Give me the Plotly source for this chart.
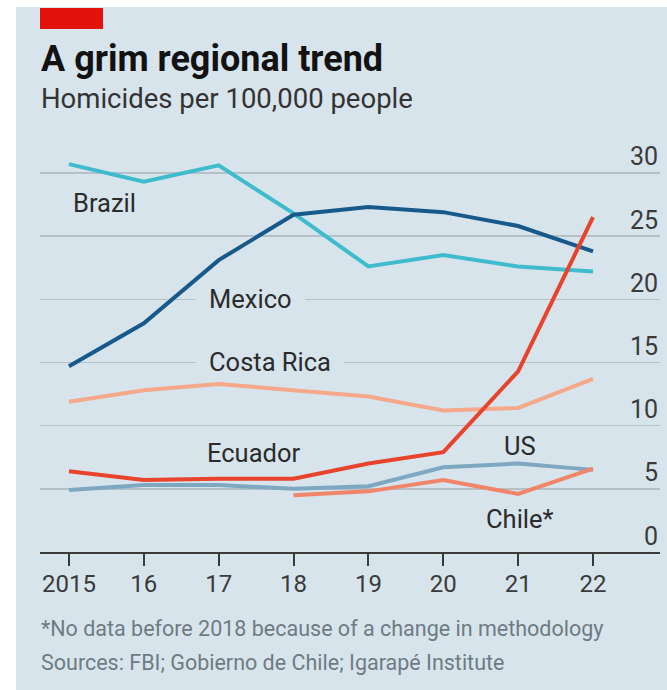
import plotly.graph_objects as go

years = [2015, 2016, 2017, 2018, 2019, 2020, 2021, 2022]
year_labels = ["2015", "16", "17", "18", "19", "20", "21", "22"]

brazil = [30.7, 29.3, 30.6, 26.8, 22.6, 23.5, 22.6, 22.2]
mexico = [14.7, 18.1, 23.1, 26.7, 27.3, 26.9, 25.8, 23.8]
costa_rica = [11.9, 12.8, 13.3, 12.8, 12.3, 11.2, 11.4, 13.7]
ecuador = [6.4, 5.7, 5.8, 5.8, 7.0, 7.9, 14.3, 26.5]
us = [4.9, 5.3, 5.3, 5.0, 5.2, 6.7, 7.0, 6.5]
chile_years = [2018, 2019, 2020, 2021, 2022]
chile = [4.5, 4.8, 5.7, 4.6, 6.6]

y_ticks = [0, 5, 10, 15, 20, 25, 30]

BG = "#D8E4EC"
FONT = "Roboto"

fig = go.Figure()

series = [
    ("Costa Rica", years, costa_rica, "#F5A88A"),
    ("US", years, us, "#7EA8C2"),
    ("Brazil", years, brazil, "#3EBCCD"),
    ("Mexico", years, mexico, "#17598A"),
    ("Chile*", chile_years, chile, "#F0856A"),
    ("Ecuador", years, ecuador, "#E8432B"),
]
for name, xs, ys, col in series:
    fig.add_trace(go.Scatter(x=xs, y=ys, mode="lines", name=name,
                             line=dict(color=col, width=4), showlegend=False,
                             hoverinfo="skip"))

# plot area: x 40..660, y 140..552
L, R, T, B = 40, 7, 140, 138
W, H = 667, 690
pw, ph = W - L - R, H - T - B


def px(x):
    return (x - L) / pw


def py(y):
    return (H - B - y) / ph


shapes = [
    dict(type="rect", xref="paper", yref="paper", x0=px(16), x1=px(667), y0=py(690), y1=py(7),
         fillcolor=BG, line=dict(width=0), layer="below"),
    dict(type="rect", xref="paper", yref="paper", x0=px(40), x1=px(103), y0=py(29), y1=py(8),
         fillcolor="#E3120B", line=dict(width=0), layer="above"),
]

annotations = [
    dict(text="<b>A grim regional trend</b>", xref="paper", yref="paper", x=px(39), y=py(59),
         xanchor="left", yanchor="middle", showarrow=False,
         font=dict(family=FONT, size=36, color="#121212")),
    dict(text="Homicides per 100,000 people", xref="paper", yref="paper", x=px(39), y=py(98),
         xanchor="left", yanchor="middle", showarrow=False,
         font=dict(family=FONT, size=27.5, color="#333333")),
    dict(text="*No data before 2018 because of a change in methodology", xref="paper", yref="paper",
         x=px(39), y=py(628), xanchor="left", yanchor="middle", showarrow=False,
         font=dict(family=FONT, size=21.5, color="#6E7B83")),
    dict(text="Sources: FBI; Gobierno de Chile; Igarapé Institute", xref="paper", yref="paper",
         x=px(39), y=py(662), xanchor="left", yanchor="middle", showarrow=False,
         font=dict(family=FONT, size=21.5, color="#6E7B83")),
]

for v in y_ticks:
    annotations.append(dict(text=str(v), xref="paper", yref="y", x=1, y=v, xanchor="right",
                            yanchor="middle", yshift=16, showarrow=False,
                            font=dict(family=FONT, size=25, color="#3A3A3A")))

series_labels = [
    ("Brazil", 2015.03, 27.6, False),
    ("Mexico", 2016.82, 20.0, True),
    ("Costa Rica", 2016.82, 15.0, True),
    ("Ecuador", 2016.82, 7.8, False),
    ("US", 2020.78, 8.4, False),
    ("Chile*", 2020.54, 2.6, False),
]
for text, x, y, box in series_labels:
    a = dict(text=text, x=x, y=y, xanchor="left", yanchor="middle", showarrow=False,
             font=dict(family=FONT, size=25.5, color="#2B2B2B"))
    if box:
        a.update(bgcolor=BG, borderpad=0, xshift=-10)
        a["text"] = "\u2002" + text + "\u2002"
    annotations.append(a)

fig.update_layout(
    width=W, height=H,
    margin=dict(l=L, r=R, t=T, b=B),
    paper_bgcolor="white",
    plot_bgcolor="rgba(0,0,0,0)",
    shapes=shapes,
    annotations=annotations,
    xaxis=dict(range=[2014.613, 2022.895], tickvals=years, ticktext=year_labels,
               showgrid=False, zeroline=False, showline=True, linecolor="#3A3A3A", linewidth=2,
               ticks="outside", ticklen=12, tickwidth=2, tickcolor="#3A3A3A",
               ticklabelstandoff=-3,
               tickfont=dict(family=FONT, size=24, color="#3A3A3A")),
    yaxis=dict(range=[0, 32.61], tickvals=y_ticks, showticklabels=False, showgrid=True,
               gridcolor="#B5C0C7", gridwidth=1.5, zeroline=False, showline=False),
)

fig.write_html(
    "out.html",
    config={"displayModeBar": False, "staticPlot": True},
    post_script="document.body.style.margin='0';document.body.style.overflow='hidden';"
                "document.documentElement.style.overflow='hidden';",
)
